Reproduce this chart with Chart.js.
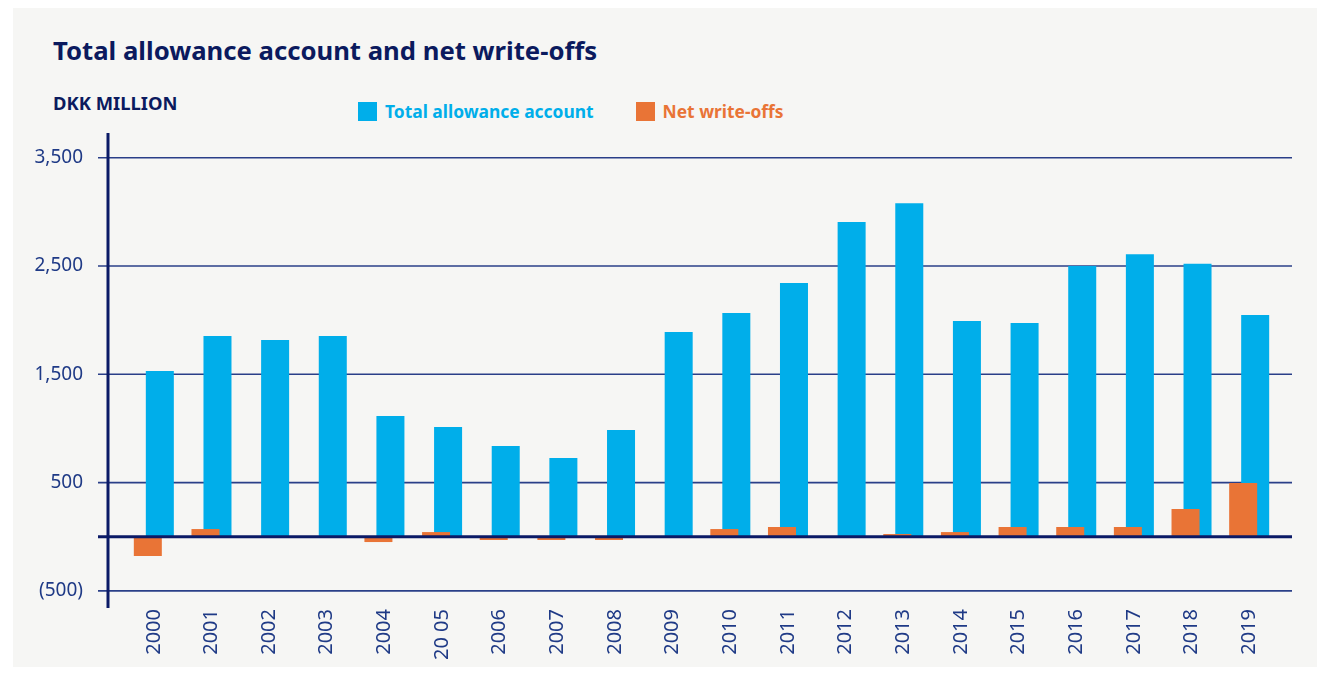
<!DOCTYPE html>
<html>
<head>
<meta charset="utf-8">
<script src="https://cdn.jsdelivr.net/npm/chart.js@4.4.0/dist/chart.umd.min.js"></script>
<style>
  body { margin: 0; background: #fff; width: 1331px; height: 674px; overflow: hidden; font-family: "Noto Sans", sans-serif; }
  .panel { position: absolute; left: 13px; top: 8px; width: 1304px; height: 659px; background: #f6f6f4; }
  .title { position: absolute; left: 53px; top: 38px; font-size: 25.7px; line-height: 1; font-weight: 700; color: #0b1a5e; white-space: nowrap; }
  .unit { position: absolute; left: 53px; top: 94px; font-size: 18.4px; line-height: 1; font-weight: 700; color: #0b1a5e; white-space: nowrap; }
  .legend { position: absolute; left: 358px; top: 102px; display: flex; font-size: 17.4px; line-height: 19px; font-weight: 700; white-space: nowrap; }
  .legend span.item { display: flex; align-items: center; margin-right: 42px; }
  .legend span.box { display: inline-block; width: 19px; height: 19px; margin-right: 8px; }
  #wrap { position: absolute; left: 0; top: 0; }
</style>
</head>
<body>
<div class="panel"></div>
<div class="title">Total allowance account and net write-offs</div>
<div class="unit">DKK MILLION</div>
<div class="legend" id="legend"></div>
<div id="wrap"><canvas id="js-allowanceChart" width="1331" height="674"></canvas></div>
<script>
const years = ['2000', '2001', '2002', '2003', '2004', '20 05', '2006', '2007', '2008', '2009',
               '2010', '2011', '2012', '2013', '2014', '2015', '2016', '2017', '2018', '2019'];
const totalAllowance = [1530, 1853, 1816, 1853, 1114, 1013, 838, 727, 985, 1890,
                        2066, 2342, 2907, 3079, 1993, 1974, 2500, 2608, 2520, 2047];
const netWriteOffs = [-178, 71, 0, 0, -49, 43, -30, -30, -30, 0,
                      71, 90, 0, 25, 43, 90, 90, 90, 256, 496];
const yTicks = [-500, 500, 1500, 2500, 3500];
const seriesNames = ['Total allowance account', 'Net write-offs'];

const navy = '#0b1a66';
const blue = '#00aeea';
const orange = '#e97436';
const labelColor = '#1f3a86';

Chart.defaults.font.family = '"Noto Sans", sans-serif';

// legend (blue first, orange second)
var legend = document.getElementById('legend');
[[seriesNames[0], blue], [seriesNames[1], orange]].forEach(([name, color]) => {
    var item = document.createElement('span');
    item.className = 'item';
    item.style.color = color;
    item.innerHTML = '<span class="box" style="background:' + color + '"></span>' + name;
    legend.appendChild(item);
});

function formatTick(v) {
    if (v < 0) {
        return '(' + Math.abs(v).toLocaleString('en-US') + ')';
    }
    return v.toLocaleString('en-US');
}

// grid lines and the vertical axis go under the bars, the zero line over them
const axisLines = {
    id: 'axisLines',
    beforeDatasetsDraw(chart) {
        const {ctx, chartArea, scales: {y}} = chart;
        ctx.save();
        ctx.strokeStyle = '#2a3f88';
        ctx.lineWidth = 1.6;
        yTicks.forEach((v) => {
            var py = y.getPixelForValue(v);
            ctx.beginPath();
            ctx.moveTo(chartArea.left - 27, py);
            ctx.lineTo(chartArea.right + 14, py);
            ctx.stroke();
        });
        ctx.strokeStyle = navy;
        ctx.lineWidth = 3;
        ctx.beginPath();
        ctx.moveTo(chartArea.left - 17, chartArea.top);
        ctx.lineTo(chartArea.left - 17, chartArea.bottom);
        ctx.stroke();
        ctx.restore();
    },
    afterDatasetsDraw(chart) {
        const {ctx, chartArea, scales: {y}} = chart;
        var py = y.getPixelForValue(0);
        ctx.save();
        ctx.strokeStyle = navy;
        ctx.lineWidth = 3;
        ctx.beginPath();
        ctx.moveTo(chartArea.left - 27, py);
        ctx.lineTo(chartArea.right + 14, py);
        ctx.stroke();
        ctx.restore();
    }
};

const ctx = document.getElementById('js-allowanceChart');
var allowanceChart = new Chart(ctx, {
    type: 'bar',
    data: {
        labels: years,
        datasets: [{
            // first dataset sits left and is painted on top
            label: seriesNames[1],
            data: netWriteOffs,
            backgroundColor: orange,
            borderWidth: 0
        }, {
            label: seriesNames[0],
            data: totalAllowance,
            backgroundColor: blue,
            borderWidth: 0
        }]
    },
    options: {
        responsive: false,
        animation: false,
        categoryPercentage: 0.4165,
        barPercentage: 2.333,
        layout: {
            padding: {top: 133, right: 53, left: 0, bottom: 0}
        },
        plugins: {
            legend: {display: false},
            tooltip: {enabled: false}
        },
        scales: {
            x: {
                offset: true,
                grid: {display: false, drawTicks: false},
                border: {display: false},
                ticks: {
                    color: labelColor,
                    font: {size: 20},
                    minRotation: 90,
                    maxRotation: 90,
                    autoSkip: false,
                    padding: 1
                },
                afterFit: function(scale) {
                    scale.height = 66;
                }
            },
            y: {
                min: -658,
                max: 3728,
                grid: {display: false, drawTicks: false},
                border: {display: false},
                afterBuildTicks: function(scale) {
                    scale.ticks = yTicks.map((v) => ({value: v}));
                },
                afterFit: function(scale) {
                    scale.width = 125;
                },
                ticks: {
                    color: labelColor,
                    font: {size: 19},
                    padding: 42,
                    callback: function(value) {
                        return formatTick(value);
                    }
                }
            }
        }
    },
    plugins: [axisLines]
});
</script>
</body>
</html>
